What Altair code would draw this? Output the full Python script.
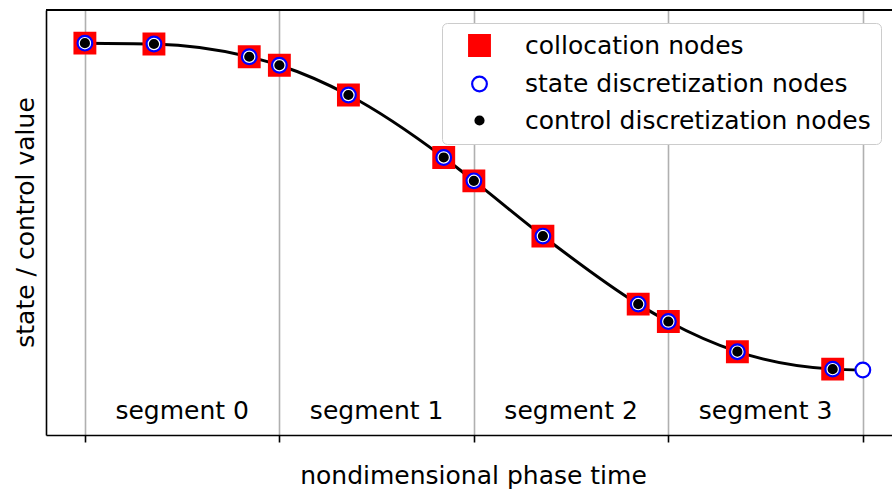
import altair as alt
import pandas as pd

# Node times (four unit segments, three Radau nodes each, plus the final endpoint)
node_t = [0.0, 0.355, 0.845, 1.0, 1.355, 1.845, 2.0, 2.355, 2.845, 3.0, 3.355, 3.845, 4.0]
# State / control value at each node
node_y = [0.922, 0.920, 0.890, 0.870, 0.800, 0.653, 0.598, 0.468, 0.308, 0.267, 0.196, 0.155, 0.153]
# Which nodes are collocation / control nodes (the final endpoint is a state node only)
is_collocation = [True, True, True, True, True, True, True, True, True, True, True, True, False]
is_control = [True, True, True, True, True, True, True, True, True, True, True, True, False]

segment_edges = [0, 1, 2, 3, 4]
segment_mid = [0.5, 1.5, 2.5, 3.5]
segment_names = ["segment 0", "segment 1", "segment 2", "segment 3"]
segment_label_y = 0.037

kinds = ["collocation nodes", "state discretization nodes", "control discretization nodes"]
kind_shape = ["square", "circle", "circle"]
kind_fill = ["#ff0000", "#ffffff", "#000000"]
kind_stroke = ["#ff0000", "#0000ff", "#000000"]
kind_size = [428, 216, 64]

FONT = "DejaVu Sans"
W, H = 846, 425

curve = pd.DataFrame({"t": node_t, "y": node_y})

rows = []
for t, y, c in zip(node_t, node_y, is_collocation):
    if c:
        rows.append({"t": t, "y": y, "kind": kinds[0]})
for t, y in zip(node_t, node_y):
    rows.append({"t": t, "y": y, "kind": kinds[1]})
for t, y, c in zip(node_t, node_y, is_control):
    if c:
        rows.append({"t": t, "y": y, "kind": kinds[2]})
nodes = pd.DataFrame(rows)

labels = pd.DataFrame({"t": segment_mid, "y": [segment_label_y] * len(segment_mid), "name": segment_names})

xscale = alt.Scale(domain=[-0.2, 4.15], nice=False, zero=False)
yscale = alt.Scale(domain=[0, 1], nice=False, zero=False)

xaxis = alt.Axis(
    values=segment_edges, labels=False, ticks=True, tickSize=7, tickWidth=1.6,
    tickColor="black", domainColor="black", domainWidth=1.6,
    grid=True, gridColor="#b0b0b0", gridWidth=1.6,
    title="nondimensional phase time", titleFont=FONT, titleFontSize=25,
    titleFontWeight="normal", titleColor="black", titleBaseline="alphabetic",
    titleX=427, titleY=48,
)
yaxis = alt.Axis(
    labels=False, ticks=False, grid=False, domainColor="black", domainWidth=1.6,
    title="state / control value", titleFont=FONT, titleFontSize=25,
    titleFontWeight="normal", titleColor="black", titleBaseline="alphabetic",
    titleAngle=-90, titleX=-13, titleY=212,
)

legend = alt.Legend(
    title=None, orient="none", legendX=396, legendY=13,
    labelFont=FONT, labelFontSize=25, labelColor="black", labelLimit=600,
    padding=10, symbolOffset=15, labelOffset=33, rowPadding=10.5,
    fillColor="white", strokeColor="#cccccc", cornerRadius=5,
    symbolStrokeWidth=2.2,
)

line = alt.Chart(curve).mark_line(color="black", strokeWidth=3, interpolate="monotone").encode(
    x=alt.X("t:Q", scale=xscale, axis=xaxis),
    y=alt.Y("y:Q", scale=yscale, axis=yaxis),
)

points = alt.Chart(nodes).mark_point(opacity=1, strokeWidth=2.2, filled=False).encode(
    x=alt.X("t:Q", scale=xscale),
    y=alt.Y("y:Q", scale=yscale),
    shape=alt.Shape("kind:N", scale=alt.Scale(domain=kinds, range=kind_shape), legend=legend),
    fill=alt.Fill("kind:N", scale=alt.Scale(domain=kinds, range=kind_fill), legend=legend),
    stroke=alt.Stroke("kind:N", scale=alt.Scale(domain=kinds, range=kind_stroke), legend=legend),
    size=alt.Size("kind:N", scale=alt.Scale(type="ordinal", domain=kinds, range=kind_size), legend=legend),
)

seg_text = alt.Chart(labels).mark_text(
    font=FONT, fontSize=25, color="black", align="center", baseline="alphabetic"
).encode(
    x=alt.X("t:Q", scale=xscale),
    y=alt.Y("y:Q", scale=yscale),
    text="name:N",
)

top_spine = alt.Chart(curve).mark_rule(color="black", strokeWidth=1.6).encode(
    x=alt.value(0), x2=alt.value(W), y=alt.value(0)
)

chart = (
    alt.layer(line, seg_text, points, top_spine)
    .properties(
        width=W, height=H,
        autosize=alt.AutoSizeParams(type="none"),
        padding={"left": 46, "top": 10, "right": 0, "bottom": 54},
    )
    .configure_view(stroke="transparent")
    .configure(background="white")
)

chart.save("out.html", embed_options={"renderer": "svg", "actions": False})
